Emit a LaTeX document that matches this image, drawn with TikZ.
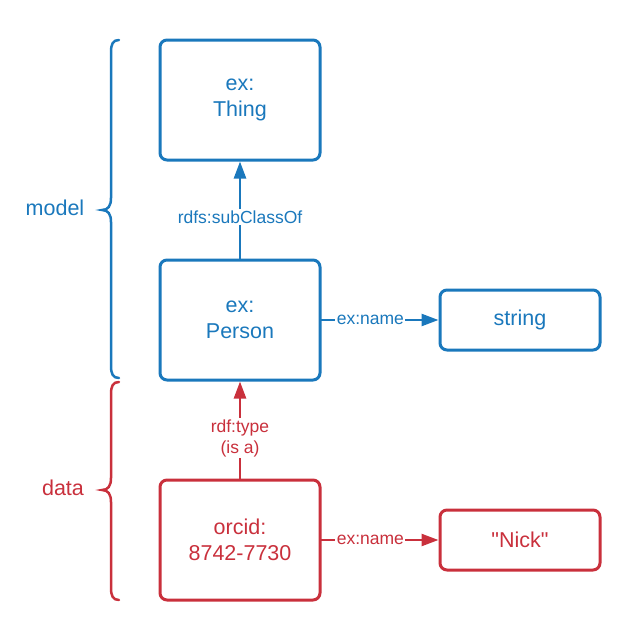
\documentclass[tikz,border=0pt]{standalone}
\usepackage{fontspec}
\setmainfont{Liberation Sans}[Ligatures=TeXOff]
\usetikzlibrary{arrows.meta}
\definecolor{mblue}{HTML}{1A78BC}
\definecolor{mred}{HTML}{C9303C}
\tikzset{
  box/.style={draw, rectangle, rounded corners=7pt, line width=3pt, inner sep=0pt, outer sep=0pt,
    align=center, font=\fontsize{21.5}{26}\selectfont},
  bigbox/.style={box, minimum width=160pt, minimum height=120pt},
  smallbox/.style={box, minimum width=160pt, minimum height=60pt},
  arr/.style={line width=2.5pt, -{Triangle[length=17pt,width=12pt]}, shorten >=1.5pt},
  lbl/.style={fill=white, inner sep=1.5pt, align=center, font=\fontsize{17.5}{21}\selectfont},
  brace/.style={line width=2.5pt, line cap=round},
  side/.style={font=\fontsize{21.5}{26}\selectfont}
}
\begin{document}
\begin{tikzpicture}[x=1pt,y=-1pt]
\useasboundingbox (0,0) rectangle (640,640);
\node[bigbox, mblue] (t) at (240,100) {ex:\\Thing};
\node[bigbox, mblue] (p) at (240,320) {ex:\\Person};
\node[smallbox, mblue] (s) at (520,320) {string};
\node[bigbox, mred] (o) at (240,540) {orcid:\\8742-7730};
\node[smallbox, mred] (n) at (520,540) {"Nick"};

\draw[arr, mblue] (p.north) -- node[lbl, text=mblue, pos=0.43] {rdfs:subClassOf} (t.south);
\draw[arr, mblue] (p.east) -- node[lbl, text=mblue, pos=0.42] {ex:name} (s.west);
\draw[arr, mred] (o.north) -- node[lbl, text=mred, pos=0.42] {rdf:type\\(is a)} (p.south);
\draw[arr, mred] (o.east) -- node[lbl, text=mred, pos=0.42] {ex:name} (n.west);

\draw[brace, mblue] (119,40) .. controls (113,40) and (111,44) .. (111,52) -- (111,198)
  .. controls (111,206) and (108,210) .. (102,210)
  .. controls (108,210) and (111,214) .. (111,222) -- (111,366)
  .. controls (111,374) and (113,378) .. (119,378);
\draw[brace, mred] (119,382) .. controls (113,382) and (111,386) .. (111,394) -- (111,478)
  .. controls (111,486) and (108,490) .. (102,490)
  .. controls (108,490) and (111,494) .. (111,502) -- (111,588)
  .. controls (111,596) and (113,600) .. (119,600);

\node[side, mblue] (ml) at (55,208) {model};
\node[side, mred] (dl) at (63,488) {data};
\end{tikzpicture}
\end{document}
